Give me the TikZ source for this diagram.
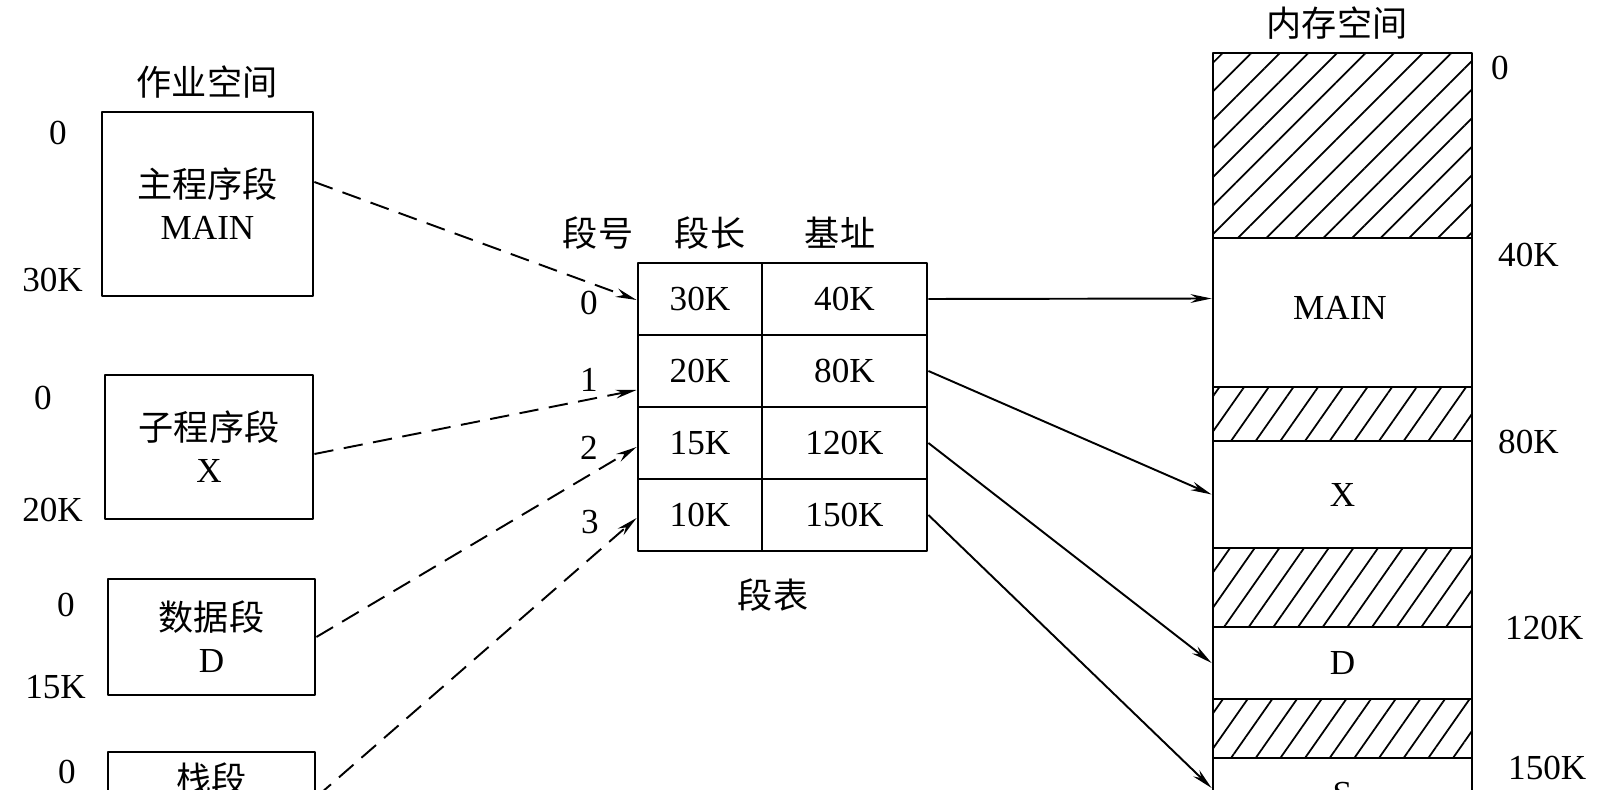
\documentclass[tikz,border=0pt]{standalone}
\usepackage{fontspec}
\setmainfont{Liberation Serif}
\newfontfamily\cjk{Noto Sans CJK SC}
\usetikzlibrary{arrows.meta,calc,patterns.meta}
\newlength\px
\setlength\px{0.02cm}

\begin{document}
\begin{tikzpicture}[x=1\px,y=-1\px,>={Stealth[length=12pt,width=5pt]},line join=round,
    font=\fontsize{20}{24}\selectfont,
    cn/.style={font=\cjk\fontsize{20}{24}\selectfont},
    seg/.style={draw,line width=1.6pt,inner sep=0pt,align=center},
    cell/.style={draw,line width=1.6pt,inner sep=0pt,minimum height=72\px},
    mem/.style={draw,line width=1.6pt,inner sep=0pt,minimum width=259\px},
    hatch/.style={mem,pattern={Lines[angle=55,distance=11.5pt,line width=1pt]}},
    link/.style={->,line width=1.1pt},
    dlink/.style={link,dash pattern=on 11pt off 6pt}]
  \useasboundingbox (0,0) rectangle (1607,790);
  \clip (0,0) rectangle (1607,790);

  % job space
  \node[cn] (jobt) at (207,82) {作业空间};
  \node[seg,minimum width=211\px,minimum height=184\px] (main) at (207.5,204) {{\cjk 主程序段}\\MAIN};
  \node[seg,minimum width=208\px,minimum height=144\px] (sub) at (209,447) {{\cjk 子程序段}\\X};
  \node[seg,minimum width=207\px,minimum height=116\px] (dat) at (211.5,637) {{\cjk 数据段}\\D};
  \node[seg,minimum width=207\px,minimum height=90\px] (stk) at (211.5,797) {};
  \node[cn] (stkt) at (211.5,779) {栈段};

  \node[anchor=east] (main0) at (73,133) {0};
  \node[anchor=east] (main1) at (89,280) {30K};
  \node[anchor=east] (sub0) at (58,398) {0};
  \node[anchor=east] (sub1) at (89,510) {20K};
  \node[anchor=east] (dat0) at (81,605) {0};
  \node[anchor=east] (dat1) at (92,687) {15K};
  \node[anchor=east] (stk0) at (82,772) {0};

  % segment table
  \node[cn] (hno) at (598,233) {段号};
  \node[cn] (hlen) at (710,233) {段长};
  \node[cn] (hbase) at (840,233) {基址};
  \foreach \len/\base [count=\i from 0] in {30K/40K,20K/80K,15K/120K,10K/150K}{
    \node[cell,minimum width=124\px] (l\i) at (700,299+72*\i) {\len};
    \node[cell,minimum width=165\px] (b\i) at (844.5,299+72*\i) {\base};
  }
  \node (n0) at (589,303) {0};
  \node (n1) at (589,380) {1};
  \node (n2) at (589,448) {2};
  \node (n3) at (590,522) {3};
  \node[cn] (tabt) at (773,595) {段表};

  % memory
  \node[cn] (memt) at (1337,23) {内存空间};
  \node[hatch,minimum height=185\px,pattern={Lines[angle=45,distance=11.5pt,line width=1pt]}] (m0) at (1342.5,145.5) {};
  \node[mem,minimum height=149\px] (mmain) at (1342.5,312.5) {};
  \node (mmaint) at (1340,308) {MAIN};
  \node[hatch,minimum height=54\px] (m1) at (1342.5,414) {};
  \node[mem,minimum height=107\px] (mx) at (1342.5,494.5) {X};
  \node[hatch,minimum height=79\px] (m2) at (1342.5,587.5) {};
  \node[mem,minimum height=72\px] (md) at (1342.5,663) {D};
  \node[hatch,minimum height=59\px] (m3) at (1342.5,728.5) {};
  \node[mem,minimum height=60\px] (ms) at (1342.5,788) {};
  \node (mst) at (1342.5,794) {S};

  \node[anchor=west] (a0) at (1485,68) {0};
  \node[anchor=west] (a40) at (1492,255) {40K};
  \node[anchor=west] (a80) at (1492,442) {80K};
  \node[anchor=west] (a120) at (1499,628) {120K};
  \node[anchor=west] (a150) at (1502,768) {150K};

  % connectors
  \draw[dlink] ($(main.east)+(0,-22)$) -- ($(l0.west)+(0,1)$);
  \draw[dlink] ($(sub.east)+(0,7)$) -- ($(l1.west)+(0,19)$);
  \draw[dlink] (dat.east) -- ($(l2.west)+(0,4)$);
  \draw[dlink] (stk.east) -- ($(l3.west)+(0,3)$);

  \draw[link] (b0.east) -- ($(mmain.west)+(0,-14)$);
  \draw[link] (b1.east) -- (mx.west);
  \draw[link] (b2.east) -- (md.west);
  \draw[link] (b3.east) -- (ms.west);
\end{tikzpicture}
\end{document}
